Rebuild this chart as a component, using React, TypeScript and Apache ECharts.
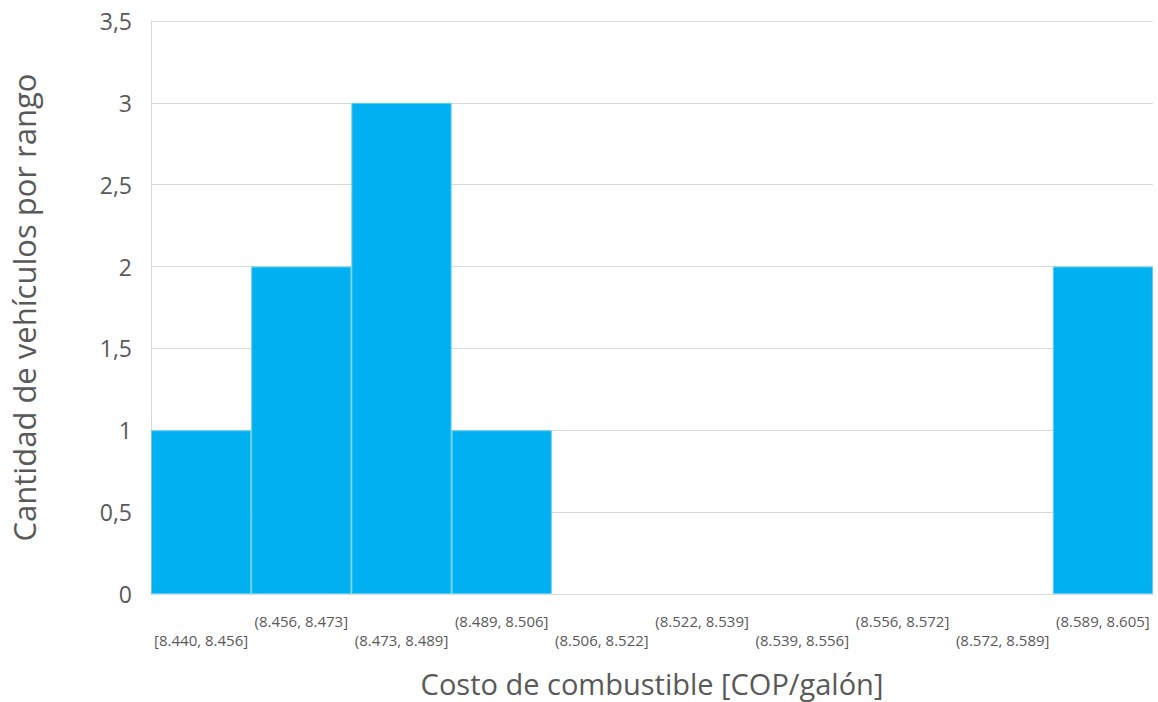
import React, { useEffect, useRef } from "react";
import * as echarts from "echarts";

const categories = [
  "[8.440, 8.456]",
  "(8.456, 8.473]",
  "(8.473, 8.489]",
  "(8.489, 8.506]",
  "(8.506, 8.522]",
  "(8.522, 8.539]",
  "(8.539, 8.556]",
  "(8.556, 8.572]",
  "(8.572, 8.589]",
  "(8.589, 8.605]",
];
const counts = [1, 2, 3, 1, 0, 0, 0, 0, 0, 2];
const yTitle = "Cantidad de vehículos por rango";
const xTitle = "Costo de combustible [COP/galón]";

const FONT = "'Open Sans', Lato, sans-serif";

export default function App() {
  const ref = useRef<HTMLDivElement>(null);
  useEffect(() => {
    if (!ref.current) return;
    const chart = echarts.init(ref.current, undefined, { renderer: "svg" });
    chart.setOption({
      animation: false,
      backgroundColor: "#ffffff",
      grid: { left: 151, right: 5, top: 21, bottom: 108, containLabel: false, outerBoundsMode: "none" },
      xAxis: {
        type: "category",
        data: categories,
        axisLine: { show: true, lineStyle: { color: "#d9d9d9", width: 1 } },
        axisTick: { show: false },
        axisLabel: {
          interval: 0,
          color: "#595959",
          fontFamily: FONT,
          fontSize: 15,
          lineHeight: 19,
          margin: 17,
          formatter: (v: string, i: number) => (i % 2 === 0 ? "\n" + v : v),
        },
        name: xTitle,
        nameLocation: "middle",
        nameGap: 75,
        nameTextStyle: { color: "#595959", fontFamily: FONT, fontSize: 29 },
      },
      yAxis: {
        type: "value",
        min: 0,
        max: 3.5,
        interval: 0.5,
        axisLine: { show: true, lineStyle: { color: "#d9d9d9", width: 1 } },
        axisTick: { show: false },
        splitLine: { lineStyle: { color: "#d9d9d9", width: 1 } },
        axisLabel: {
          color: "#595959",
          fontFamily: FONT,
          fontSize: 23,
          margin: 19,
          formatter: (v: number) => String(v).replace(".", ","),
        },
        name: yTitle,
        nameLocation: "middle",
        nameGap: 112,
        nameTextStyle: { color: "#595959", fontFamily: FONT, fontSize: 31 },
      },
      series: [
        {
          type: "bar",
          data: counts.map((v) => (v === 0 ? { value: v, itemStyle: { borderWidth: 0 } } : v)),
          barCategoryGap: "0%",
          itemStyle: { color: "#00b0f0", borderColor: "#5fcdf5", borderWidth: 1 },
        },
      ],
    });
    return () => chart.dispose();
  }, []);
  return (
    <div
      ref={ref}
      style={{ position: "fixed", left: 0, top: 0, width: 1158, height: 702 }}
    />
  );
}
